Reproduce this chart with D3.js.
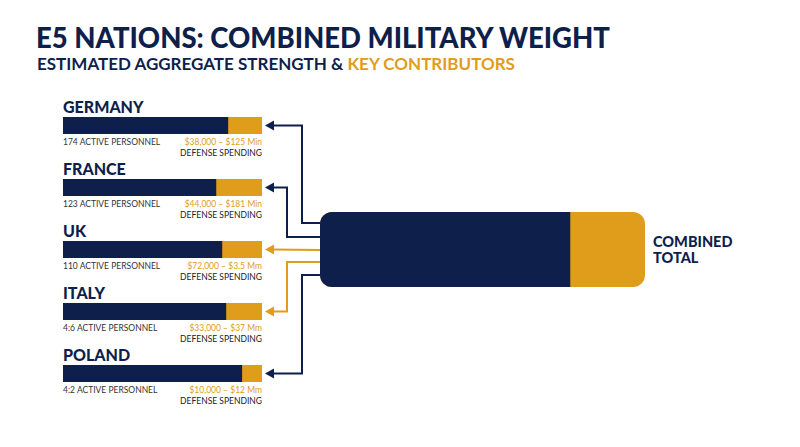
<!DOCTYPE html>
<html lang="en">
<script src="https://d3js.org/d3.v7.min.js"></script>
<style>
  body { margin: 0; background: #fff; }
  text { font-family: Lato, "Open Sans", sans-serif; }
</style>
<body>
<svg id="chart" width="800" height="447"></svg>
<script>
  var nations = ["GERMANY", "FRANCE", "UK", "ITALY", "POLAND"]
  var navyShare = [0.83, 0.77, 0.80, 0.82, 0.90]
  var personnel = ["174 ACTIVE PERSONNEL", "123 ACTIVE PERSONNEL", "110 ACTIVE PERSONNEL", "4:6 ACTIVE PERSONNEL", "4:2 ACTIVE PERSONNEL"]
  var spending = ["$38,000 – $125 Min", "$44,000 – $181 Min", "$72,000 – $3.5 Mm", "$33,000 – $37 Mm", "$10,000 – $12 Mm"]
  var linkColor = ["navy", "navy", "gold", "gold", "navy"]
  var linkStart = [223, 237, 250, 262, 275]
  var linkElbow = [302, 287, null, 287, 302]
  var combinedShare = 0.77

  var navy = "#0f1f4b", gold = "#e09c1b"
  var svg = d3.select("#chart")

  svg.append("text").attr("x", 36).attr("y", 48)
    .style("font-size", "27.5px").style("font-weight", 900).style("fill", navy)
    .text("E5 NATIONS: COMBINED MILITARY WEIGHT")
  var sub = svg.append("text").attr("x", 37).attr("y", 70)
    .style("font-size", "17px").style("font-weight", 700).style("fill", navy)
  sub.append("tspan").text("ESTIMATED AGGREGATE STRENGTH & ")
  sub.append("tspan").style("fill", gold).text("KEY CONTRIBUTORS")

  var y = d3.scaleBand().domain(nations).range([100, 410]).padding(0)
  var x = d3.scaleLinear().domain([0, 1]).range([63, 262])

  var g = svg.selectAll(".nation").data(nations).enter().append("g")
    .attr("transform", function(d) { return "translate(0," + y(d) + ")" })

  g.append("text").attr("x", 63).attr("y", 13)
    .style("font-size", "16px").style("font-weight", 900).style("fill", navy)
    .text(function(d) { return d })
  g.append("rect").attr("x", x(0)).attr("y", 17).attr("height", 17)
    .attr("width", x(1) - x(0)).style("fill", gold)
  g.append("rect").attr("x", x(0)).attr("y", 17).attr("height", 17)
    .attr("width", function(d, i) { return x(navyShare[i]) - x(0) }).style("fill", navy)
  g.append("text").attr("x", 63).attr("y", 45)
    .style("font-size", "8.5px").style("fill", "#333")
    .text(function(d, i) { return personnel[i] })
  g.append("text").attr("x", 262).attr("y", 45).attr("text-anchor", "end")
    .style("font-size", "8.5px").style("fill", gold)
    .text(function(d, i) { return spending[i] })
  g.append("text").attr("x", 262).attr("y", 56).attr("text-anchor", "end")
    .style("font-size", "8.5px").style("fill", "#222")
    .text("DEFENSE SPENDING")

  // connectors from combined box to each bar
  var boxX = 320
  nations.forEach(function(d, i) {
    var c = linkColor[i] == "navy" ? navy : gold
    var ty = y(d) + 25.5
    var pts = linkElbow[i] == null
      ? [[boxX, linkStart[i]], [272, ty]]
      : [[boxX, linkStart[i]], [linkElbow[i], linkStart[i]], [linkElbow[i], ty], [272, ty]]
    svg.append("path").attr("d", d3.line()(pts))
      .style("fill", "none").style("stroke", c).style("stroke-width", 2)
    svg.append("path").attr("d", d3.line()([[265, ty], [274, ty - 5], [274, ty + 5]]) + "Z")
      .style("fill", c)
  })

  // combined box
  var bx = d3.scaleLinear().domain([0, 1]).range([320, 645])
  var clip = svg.append("clipPath").attr("id", "boxclip")
  clip.append("rect").attr("x", bx(0)).attr("y", 212).attr("width", bx(1) - bx(0)).attr("height", 75).attr("rx", 12)
  var bg = svg.append("g").attr("clip-path", "url(#boxclip)")
  bg.append("rect").attr("x", bx(0)).attr("y", 212).attr("width", bx(1) - bx(0)).attr("height", 75).style("fill", gold)
  bg.append("rect").attr("x", bx(0)).attr("y", 212).attr("width", bx(combinedShare) - bx(0)).attr("height", 75).style("fill", navy)

  svg.append("text").attr("x", 653).attr("y", 247)
    .style("font-size", "14.5px").style("font-weight", 900).style("fill", navy).text("COMBINED")
  svg.append("text").attr("x", 653).attr("y", 263)
    .style("font-size", "14.5px").style("font-weight", 900).style("fill", navy).text("TOTAL")
</script>
</body>
</html>
